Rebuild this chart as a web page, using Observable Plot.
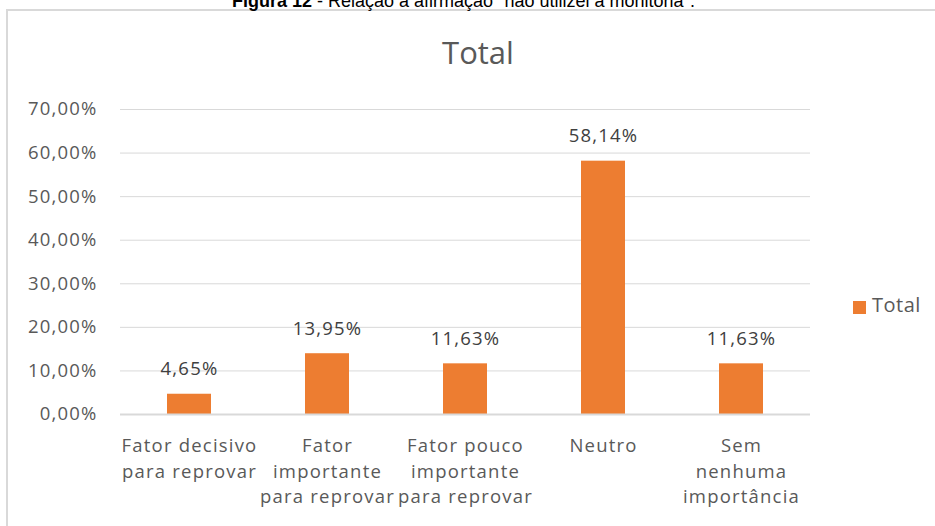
<!DOCTYPE html>
<html><head><meta charset="utf-8">
<script src="https://cdn.jsdelivr.net/npm/d3@7"></script>
<script src="https://cdn.jsdelivr.net/npm/@observablehq/plot@0.6"></script>
<style>
body{margin:0;background:#fff;}
#wrap{position:relative;width:935px;height:526px;overflow:hidden;font-family:"Open Sans",sans-serif;background:#fff;}
#caption{position:absolute;left:-4px;width:935px;top:-8px;text-align:center;font-family:"Liberation Sans",Arial,sans-serif;font-size:18px;line-height:18px;color:#000;white-space:nowrap}
#frame{position:absolute;left:6px;top:9px;width:960px;height:560px;border:2px solid #d9d9d9;box-sizing:border-box}
#title{position:absolute;left:0;width:956px;top:36px;text-align:center;font-size:31px;line-height:32px;color:#595959}
#legend{position:absolute;left:853px;top:295px;font-size:20px;line-height:20px;color:#595959;white-space:nowrap;letter-spacing:0.5px}
#legend .sw{position:absolute;left:0;top:6px;width:13px;height:13px;background:#ED7D31}
#legend .lb{position:absolute;left:19px;top:0}
#chart{position:absolute;left:0;top:0}
#chart svg text{letter-spacing:1.2px}
</style></head>
<body>
<div id="wrap">
  <div id="frame"></div>
  <div id="caption"><b>Figura 12</b> - Relação à afirmação "não utilizei a monitoria".</div>
  <div id="chart"></div>
  <div id="title">Total</div>
  <div id="legend"><span class="sw"></span><span class="lb">Total</span></div>
</div>
<script>
const categories = [
  "Fator decisivo\npara reprovar",
  "Fator\nimportante\npara reprovar",
  "Fator pouco\nimportante\npara reprovar",
  "Neutro",
  "Sem\nnenhuma\nimportância"
];
const values = [0.0465, 0.1395, 0.1163, 0.5814, 0.1163];
const yTicks = [0, 0.1, 0.2, 0.3, 0.4, 0.5, 0.6, 0.7];
const seriesName = "Total";

const data = categories.map((c, i) => ({category: c, value: values[i]}));
const fmt = v => (v * 100).toFixed(2).replace(".", ",") + "%";

const chart = Plot.plot({
  width: 935,
  height: 526,
  marginLeft: 120,
  marginRight: 125,
  marginTop: 109,
  marginBottom: 112,
  style: {fontFamily: '"Open Sans", sans-serif', color: "#595959", background: "transparent", overflow: "visible"},
  x: {domain: categories, paddingInner: 0.68, paddingOuter: 0.34, label: null},
  y: {domain: [0, 0.7], label: null},
  marks: [
    Plot.ruleY(yTicks.slice(1), {stroke: "#d9d9d9", strokeWidth: 1}),
    Plot.barY(data, {x: "category", y: "value", fill: "#ED7D31"}),
    Plot.ruleY([0], {stroke: "#d9d9d9", strokeWidth: 2}),
    Plot.text(data, {x: "category", y: "value", text: d => fmt(d.value), dy: -25, fontSize: 18.5, fill: "#404040"}),
    Plot.axisY({ticks: yTicks, tickFormat: fmt, tickSize: 0, tickPadding: 23, fontSize: 18.5, label: null, fill: "#595959"}),
    Plot.axisX({tickSize: 0, tickPadding: 20, fontSize: 18.5, lineHeight: 1.36, label: null, fill: "#595959"})
  ]
});
document.getElementById("chart").appendChild(chart);
</script>
</body></html>
